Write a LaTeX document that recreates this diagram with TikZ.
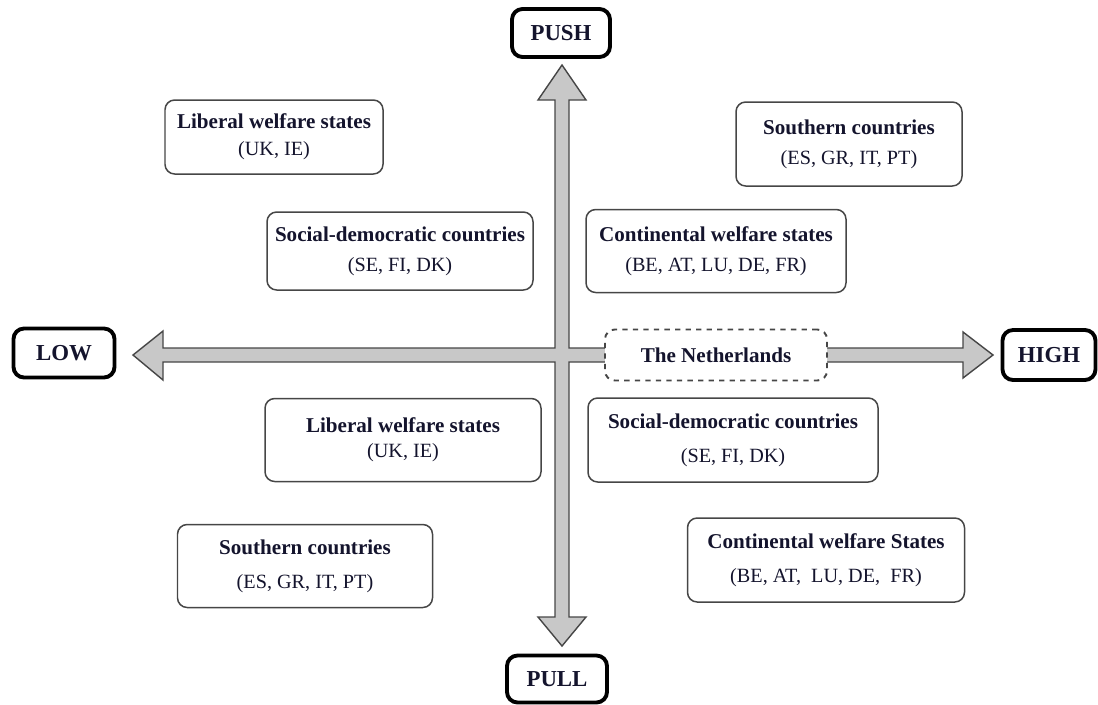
\documentclass[tikz,border=0pt]{standalone}
\usepackage{fontspec}
\setmainfont{Liberation Serif}
\definecolor{inkc}{RGB}{20,20,45}
\definecolor{arrowgray}{RGB}{200,200,200}
\definecolor{edgegray}{RGB}{70,70,70}
\newcommand{\regime}[3][0pt]{\textbf{#2}\\[#1]{\fontsize{11.5}{14}\selectfont #3}}
\begin{document}
\begin{tikzpicture}[x=0.02cm,y=-0.02cm,
  box size/.style 2 args={minimum width=#1*0.02cm,minimum height=#2*0.02cm},
  axislabel/.style={draw=black,line width=2.2pt,rounded corners=6pt,fill=white,
    text=inkc,font=\fontsize{13}{15}\selectfont\bfseries,inner sep=0pt},
  group/.style={draw=edgegray,line width=0.85pt,rounded corners=5.5pt,fill=white,
    text=inkc,align=center,font=\fontsize{12}{14.4}\selectfont,inner sep=0pt}]
  \useasboundingbox (0,0) rectangle (1098,704);
  % axes
  \draw[draw=edgegray,fill=arrowgray,line width=0.8pt,line join=miter]
    (562,65) -- (586,100) -- (569,100) -- (569,348) -- (963,348) -- (963,332)
    -- (993,355) -- (963,378) -- (963,362) -- (569,362) -- (569,617) -- (586,617)
    -- (562,646) -- (538,617) -- (555,617) -- (555,362) -- (163,362) -- (163,380)
    -- (133,355) -- (163,331) -- (163,348) -- (555,348) -- (555,100) -- (538,100)
    -- cycle;
  \node[axislabel,box size={98}{48}] (push) at (561,33) {PUSH};
  \node[axislabel,box size={100}{47}] (pull) at (557,679) {PULL};
  \node[axislabel,box size={101}{49}] (low) at (64,353) {LOW};
  \node[axislabel,box size={93}{50}] (high) at (1049,355) {HIGH};
  \node[group,draw=edgegray,dashed,line width=1.1pt,box size={222}{51},
    font=\fontsize{12}{14.4}\selectfont\bfseries] (nl) at (716,355) {The Netherlands};
  % push side
  \node[group,box size={218}{74}] (libtop) at (274,137) {\regime[1pt]{Liberal welfare states}{(UK, IE)}};
  \node[group,box size={226}{84}] (southtop) at (849,144) {\regime[2.5pt]{Southern countries}{(ES, GR, IT, PT)}};
  \node[group,box size={266}{78}] (socdemtop) at (400,251) {\regime[2.5pt]{Social-democratic countries}{(SE, FI, DK)}};
  \node[group,box size={260}{83}] (conttop) at (716,251) {\regime[2.5pt]{Continental welfare states}{(BE, AT, LU, DE, FR)}};
  % pull side
  \node[group,box size={276}{83}] (libbot) at (403,440) {\regime{Liberal welfare states}{(UK, IE)}};
  \node[group,box size={290}{84}] (socdembot) at (733,440) {\regime[5pt]{Social-democratic countries}{(SE, FI, DK)}};
  \node[group,box size={255}{83}] (southbot) at (305,566) {\regime[5pt]{Southern countries}{(ES, GR, IT, PT)}};
  \node[group,box size={277}{84}] (contbot) at (826,560) {\regime[5pt]{Continental welfare States}{(BE, AT, \ LU, DE, \ FR)}};
\end{tikzpicture}
\end{document}
